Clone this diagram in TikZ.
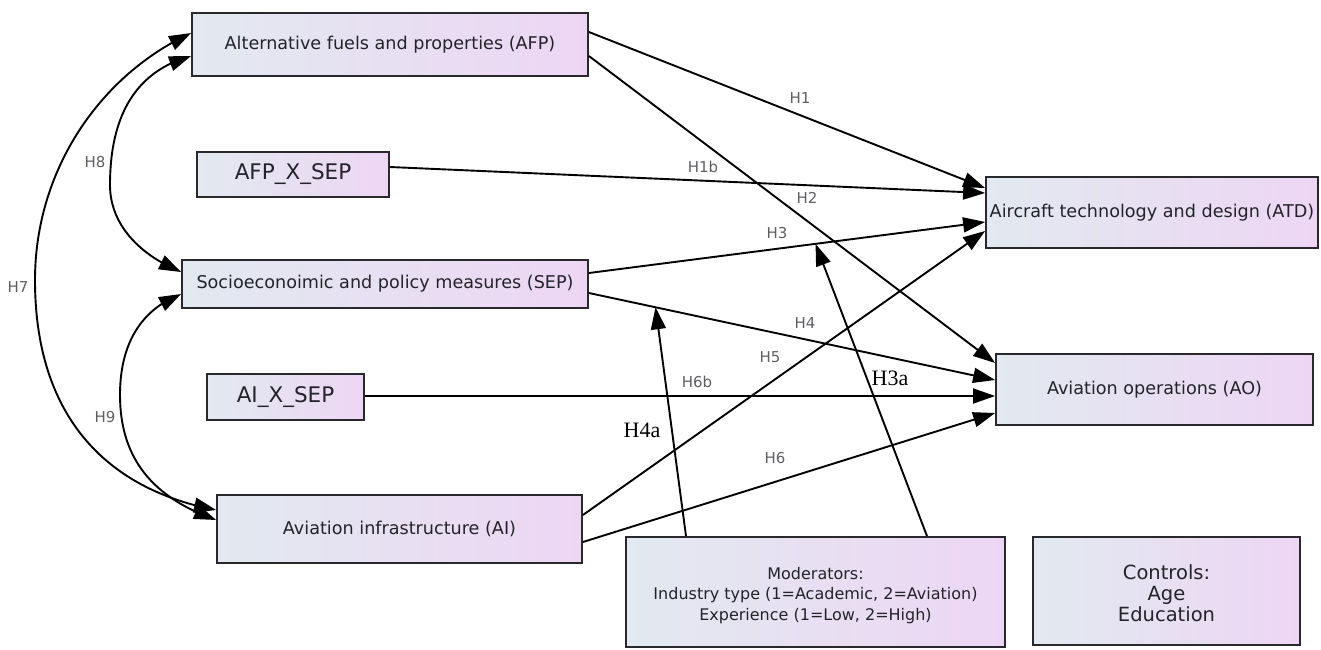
\documentclass[tikz,border=0pt]{standalone}
\usepackage{fontspec}
\setmainfont{DejaVu Sans}
\newfontfamily\hyplabelfont{Liberation Serif}
\usetikzlibrary{arrows.meta,bending}

\definecolor{boxleft}{RGB}{226,233,240}
\definecolor{boxright}{RGB}{237,214,244}
\definecolor{edgegray}{RGB}{40,40,45}
\definecolor{labelgray}{RGB}{95,95,100}
\definecolor{textgray}{RGB}{35,35,42}

\begin{document}
\begin{tikzpicture}[x=1pt,y=-1pt,
  construct/.style={draw=edgegray, line width=1.8pt, left color=boxleft, right color=boxright,
    inner sep=0pt, text=textgray, align=center, font=\fontsize{17.6}{20}\selectfont},
  bigconstruct/.style={construct, font=\fontsize{21.5}{24}\selectfont},
  effect/.style={line width=1.9pt, draw=black, -{Triangle[length=22pt,width=15pt]}},
  covar/.style={line width=1.9pt, draw=black, {Triangle[length=22pt,width=15pt]}-{Triangle[length=22pt,width=15pt]}},
  hlabel/.style={text=labelgray, inner sep=0pt, font=\fontsize{15}{15}\selectfont},
  modlabel/.style={text=black, inner sep=0pt, font=\hyplabelfont\fontsize{22}{22}\selectfont}]

\useasboundingbox (0,0) rectangle (1321,649);

% constructs
\node[construct, minimum width=396pt, minimum height=63pt] (AFP) at (390,44.5) {Alternative fuels and properties (AFP)};
\node[bigconstruct, minimum width=192pt, minimum height=45pt] (AFPX) at (293,174.5) {AFP\_X\_SEP};
\node[construct, minimum width=406pt, minimum height=48pt] (SEP) at (385,284) {Socioeconoimic and policy measures (SEP)};
\node[bigconstruct, minimum width=157pt, minimum height=46pt] (AIX) at (285.5,397) {AI\_X\_SEP};
\node[construct, minimum width=365pt, minimum height=68pt] (AI) at (399.5,529) {Aviation infrastructure (AI)};
\node[construct, minimum width=332pt, minimum height=71pt] (ATD) at (1152,212.5) {Aircraft technology and design (ATD)};
\node[construct, minimum width=317pt, minimum height=71pt] (AO) at (1154.5,389.5) {Aviation operations (AO)};
\node[construct, minimum width=379pt, minimum height=110pt, font=\fontsize{16}{20.5}\selectfont] (MOD) at (815.5,592)
  {\rule{0pt}{19pt}Moderators:\\Industry type (1=Academic, 2=Aviation)\\Experience (1=Low, 2=High)};
\node[construct, minimum width=267pt, minimum height=108pt, font=\fontsize{19.5}{21}\selectfont] (CTRL) at (1166.5,591)
  {\rule{0pt}{20pt}Controls:\\Age\\Education};

% direct effects
\draw[effect] ([yshift=12.5pt]AFP.east) -- ([yshift=24.5pt]ATD.west);
\draw[effect] ([yshift=-11.5pt]AFP.east) -- ([yshift=26.5pt]AO.west);
\draw[effect] ([yshift=7.5pt]AFPX.east) -- ([yshift=19.5pt]ATD.west);
\draw[effect] ([yshift=11pt]SEP.east) -- coordinate[pos=0.572] (onH3) ([yshift=-9.5pt]ATD.west);
\draw[effect] ([yshift=-9pt]SEP.east) -- coordinate[pos=0.164] (onH4) ([yshift=9.5pt]AO.west);
\draw[effect] ([yshift=1pt]AIX.east) -- ([yshift=-6.5pt]AO.west);
\draw[effect] ([yshift=14pt]AI.east) -- ([yshift=-18.5pt]ATD.west);
\draw[effect] ([yshift=-13pt]AI.east) -- ([yshift=-23.5pt]AO.west);

% moderation paths
\draw[effect] ([xshift=-129.5pt]MOD.north) -- (onH4);
\draw[effect] ([xshift=111.5pt]MOD.north) -- (onH3);

% correlations among exogenous constructs
\draw[covar] ([yshift=11.5pt]AFP.west) .. controls (100,75) and (35,170) .. (35,280)
  .. controls (35,420) and (110,490) .. ([yshift=19pt]AI.west);
\draw[covar] ([yshift=-11.5pt]AFP.west) .. controls (140,70) and (110,110) .. (110,185)
  .. controls (110,225) and (140,255) .. ([yshift=12pt]SEP.west);
\draw[covar] ([yshift=-10pt]SEP.west) .. controls (140,310) and (120,345) .. (120,395)
  .. controls (120,465) and (160,500) .. ([yshift=9pt]AI.west);

% hypothesis labels
\node[hlabel] (lH1) at (800,98) {H1};
\node[hlabel] (lH1b) at (703,167) {H1b};
\node[hlabel] (lH2) at (807,198) {H2};
\node[hlabel] (lH3) at (777,233) {H3};
\node[hlabel] (lH4) at (805,323) {H4};
\node[hlabel] (lH5) at (770,357) {H5};
\node[hlabel] (lH6b) at (697,382) {H6b};
\node[hlabel] (lH6) at (775,458) {H6};
\node[hlabel] (lH7) at (18,287) {H7};
\node[hlabel] (lH8) at (95,162) {H8};
\node[hlabel] (lH9) at (105,417) {H9};
\node[modlabel] (lH4a) at (642,430) {H4a};
\node[modlabel] (lH3a) at (890,378) {H3a};
\end{tikzpicture}
\end{document}
